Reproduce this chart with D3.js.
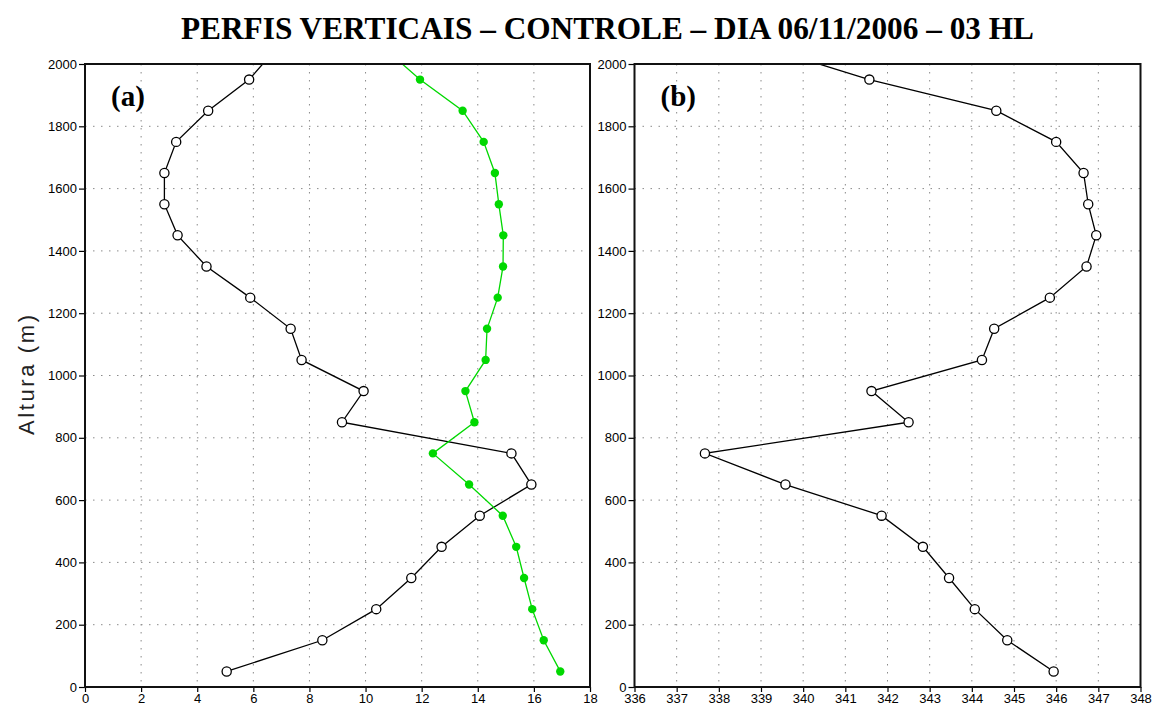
<!DOCTYPE html>
<html>
<head>
<meta charset="utf-8">
<script src="https://cdn.jsdelivr.net/npm/d3@7"></script>
<style>
  html, body { margin: 0; padding: 0; background: #fff; }
  svg { display: block; }
  .tick text { font-family: "Liberation Sans", Arial, sans-serif; font-size: 13px; fill: #000; }
  .tick line { stroke: #000; stroke-width: 1.2; }
  .domain { display: none; }
</style>
</head>
<body>
<svg id="chart" width="1160" height="706"></svg>
<script>
// Heights (m) of the profile levels; the last level lies above the plotted range
const heights = [50, 150, 250, 350, 450, 550, 650, 750, 850, 950, 1050, 1150, 1250, 1350, 1450, 1550, 1650, 1750, 1850, 1950, 2050];

// Panel (a): two profiles
const seriesA1 = [5.05, 8.46, 10.38, 11.63, 12.71, 14.07, 15.91, 15.20, 9.16, 9.93, 7.72, 7.33, 5.89, 4.33, 3.30, 2.83, 2.83, 3.25, 4.39, 5.85, 6.82];
const seriesA2 = [16.94, 16.35, 15.94, 15.65, 15.37, 14.89, 13.69, 12.40, 13.88, 13.56, 14.28, 14.33, 14.71, 14.90, 14.91, 14.75, 14.61, 14.21, 13.46, 11.94, 10.68];

// Panel (b): one profile
const seriesB = [345.94, 344.84, 344.07, 343.46, 342.84, 341.86, 339.58, 337.67, 342.50, 341.62, 344.24, 344.53, 345.85, 346.72, 346.95, 346.76, 346.65, 346.00, 344.58, 341.57, 339.18];

// Axis ticks
const yTicks = [0, 200, 400, 600, 800, 1000, 1200, 1400, 1600, 1800, 2000];
const xTicksA = [0, 2, 4, 6, 8, 10, 12, 14, 16, 18];
const xTicksB = [336, 337, 338, 339, 340, 341, 342, 343, 344, 345, 346, 347, 348];

const titleText = "PERFIS VERTICAIS \u2013 CONTROLE \u2013 DIA 06/11/2006 \u2013 03 HL";
const yLabel = "Altura  (m)";

const svg = d3.select("#chart");
const plotTop = 64, plotBottom = 687;
const y = d3.scaleLinear().domain([0, 2000]).range([plotBottom, plotTop]);

svg.append("text")
  .attr("x", 607.5).attr("y", 39)
  .attr("text-anchor", "middle")
  .attr("font-family", "'Liberation Serif', 'Times New Roman', serif")
  .attr("font-weight", "bold")
  .attr("font-size", 31)
  .attr("textLength", 853)
  .attr("lengthAdjust", "spacingAndGlyphs")
  .text(titleText);

svg.append("text")
  .attr("transform", "translate(34,375) rotate(-90)")
  .attr("text-anchor", "middle")
  .attr("font-family", "'Liberation Sans', Arial, sans-serif")
  .attr("font-size", 22)
  .attr("fill", "#222")
  .attr("textLength", 120)
  .attr("lengthAdjust", "spacing")
  .text(yLabel);

function panel(id, left, right, xDomain, xTicks, label, series) {
  const x = d3.scaleLinear().domain(xDomain).range([left, right]);
  const g = svg.append("g");

  // grid
  const grid = g.append("g")
    .attr("stroke", "#8a8a8a").attr("stroke-width", 1)
    .attr("stroke-dasharray", "1.5,6.5");
  grid.selectAll("line.v").data(xTicks.slice(1, -1)).join("line")
    .attr("x1", d => x(d)).attr("x2", d => x(d))
    .attr("y1", plotTop).attr("y2", plotBottom);
  grid.selectAll("line.h").data(yTicks.slice(1, -1)).join("line")
    .attr("x1", left).attr("x2", right)
    .attr("y1", d => y(d)).attr("y2", d => y(d));

  // axes
  g.append("g").attr("transform", `translate(${left},0)`)
    .call(d3.axisLeft(y).tickValues(yTicks).tickSize(6).tickPadding(2).tickFormat(d3.format("d")));
  g.append("g").attr("transform", `translate(0,${plotBottom})`)
    .call(d3.axisBottom(x).tickValues(xTicks).tickSize(5).tickPadding(2).tickFormat(d3.format("d")));

  // clipped plot area
  g.append("clipPath").attr("id", "clip-" + id)
    .append("rect").attr("x", left).attr("y", plotTop)
    .attr("width", right - left).attr("height", plotBottom - plotTop);
  const plot = g.append("g").attr("clip-path", `url(#clip-${id})`);

  series.forEach(s => {
    const pts = heights.map((h, i) => [s.values[i], h]);
    plot.append("path")
      .attr("d", d3.line().x(d => x(d[0])).y(d => y(d[1]))(pts))
      .attr("fill", "none").attr("stroke", s.color).attr("stroke-width", 1.3);
    plot.selectAll(null).data(pts).join("circle")
      .attr("cx", d => x(d[0])).attr("cy", d => y(d[1]))
      .attr("r", s.open ? 4.6 : 4.2)
      .attr("fill", s.open ? "#fff" : s.color)
      .attr("stroke", s.open ? "#000" : "none")
      .attr("stroke-width", 1.3);
  });

  // frame
  g.append("rect").attr("x", left).attr("y", plotTop)
    .attr("width", right - left).attr("height", plotBottom - plotTop)
    .attr("fill", "none").attr("stroke", "#111").attr("stroke-width", 2);

  g.append("text")
    .attr("x", left + 26).attr("y", 106)
    .attr("font-family", "'Liberation Serif', 'Times New Roman', serif")
    .attr("font-weight", "bold").attr("font-size", 29)
    .text(label);
}

panel("a", 85, 590, [0, 18], xTicksA, "(a)", [
  { values: seriesA1, color: "#000", open: true },
  { values: seriesA2, color: "#00d800", open: false }
]);
panel("b", 634.5, 1140.5, [336, 348], xTicksB, "(b)", [
  { values: seriesB, color: "#000", open: true }
]);
</script>
</body>
</html>
